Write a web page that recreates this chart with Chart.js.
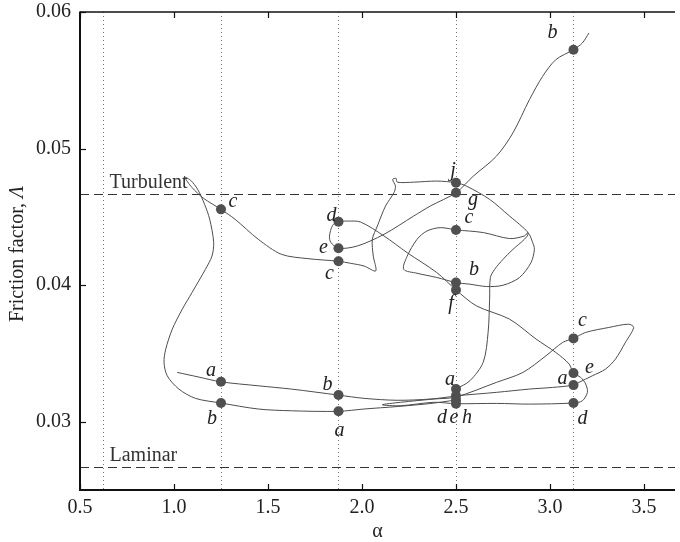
<!DOCTYPE html>
<html><head><meta charset="utf-8">
<script src="https://cdn.jsdelivr.net/npm/chart.js@4/dist/chart.umd.min.js"></script>
<style>html,body{margin:0;padding:0;background:#fff}#wrap{width:680px;height:542px}</style>
</head><body><div id="wrap"><canvas id="c" width="680" height="542"></canvas></div>
<script>
// ---- data ----
const xTicks = [0.5, 1.0, 1.5, 2.0, 2.5, 3.0, 3.5];
const yTicks = [0.03, 0.04, 0.05, 0.06];
const columnAlphas = [0.625, 1.25, 1.875, 2.5, 3.125];
const turbulentLambda = 0.0467;
const laminarLambda = 0.0267;

const curveA = [[3.207,0.05846],[3.172,0.05773],[3.125,0.05724],[3.031,0.05651],[2.961,0.05529],[2.891,0.05359],[2.803,0.05115],[2.715,0.04944],[2.592,0.04798],[2.5,0.04677],[2.363,0.04579],[2.275,0.04506],[2.117,0.04372],[1.976,0.04287],[1.875,0.0427],[1.834,0.04314],[1.827,0.0436],[1.844,0.04438],[1.875,0.04465],[1.923,0.04469],[1.993,0.04462],[2.117,0.0436],[2.24,0.04238],[2.398,0.04092],[2.5,0.03965],[2.609,0.03848],[2.785,0.03751],[2.926,0.03605],[3.031,0.03507],[3.102,0.03422],[3.125,0.03356],[3.163,0.03325],[3.19,0.03276],[3.199,0.03215],[3.172,0.03153],[3.125,0.03137],[2.891,0.03129],[2.715,0.03134],[2.5,0.03132],[2.382,0.03142],[2.204,0.03117],[2.108,0.03124],[2.204,0.03142],[2.382,0.03166],[2.5,0.03181],[2.715,0.03288],[2.856,0.03361],[2.979,0.03483],[3.067,0.0358],[3.125,0.0361],[3.19,0.03654],[3.313,0.0369],[3.418,0.03714],[3.445,0.0369],[3.401,0.0358],[3.348,0.03458],[3.295,0.03385],[3.225,0.03336],[3.154,0.03288],[3.125,0.03268],[3.014,0.03251],[2.891,0.03239],[2.715,0.03215],[2.5,0.0319]];

const curveB = [[2.5,0.03239],[2.574,0.033],[2.645,0.03436],[2.671,0.03656],[2.679,0.03897],[2.683,0.04056],[2.706,0.04116],[2.75,0.04189],[2.803,0.04262],[2.864,0.04336],[2.884,0.04379],[2.856,0.04423],[2.785,0.04506],[2.679,0.04628],[2.556,0.04725],[2.5,0.0475],[2.398,0.04762],[2.275,0.04754],[2.187,0.04754],[2.182,0.04781],[2.163,0.04774],[2.178,0.04725],[2.17,0.04677],[2.125,0.04579],[2.082,0.04433],[2.055,0.04336],[2.06,0.04213],[2.073,0.04104],[2.011,0.0414],[1.939,0.0416],[1.875,0.04175],[1.712,0.04194],[1.571,0.04226],[1.448,0.04336],[1.325,0.04482],[1.25,0.04555],[1.158,0.04635],[1.095,0.04716],[1.058,0.04789],[1.089,0.04767],[1.126,0.04701],[1.163,0.04591],[1.19,0.04482],[1.211,0.04314],[1.202,0.04213],[1.167,0.04116],[1.096,0.03946],[1.044,0.03824],[0.991,0.03678],[0.956,0.03531],[0.947,0.03434],[0.964,0.03336],[1.026,0.03239],[1.114,0.03171],[1.25,0.03137],[1.448,0.03093],[1.624,0.0308],[1.875,0.03076],[2.011,0.03093],[2.187,0.03111],[2.361,0.03133],[2.5,0.03159]];

const curveC = [[1.017,0.03361],[1.132,0.03327],[1.25,0.03292],[1.448,0.03263],[1.624,0.03239],[1.875,0.03195],[2.011,0.03171],[2.187,0.03157],[2.363,0.03166],[2.5,0.03188]];

const curveD = [[2.5,0.04404],[2.645,0.04385],[2.785,0.04341],[2.864,0.0436],[2.884,0.04383],[2.908,0.04311],[2.917,0.04262],[2.899,0.04165],[2.838,0.04056],[2.75,0.03999],[2.662,0.0399],[2.574,0.04007],[2.5,0.04019],[2.398,0.04056],[2.293,0.04087],[2.222,0.04116],[2.24,0.04211],[2.293,0.04336],[2.345,0.04396],[2.416,0.04421],[2.5,0.04404]];

const markerAlpha  = [1.25,1.25,1.25, 1.875,1.875,1.875,1.875,1.875, 2.5,2.5,2.5,2.5,2.5,2.5,2.5,2.5,2.5, 3.125,3.125,3.125,3.125,3.125];
const markerLambda = [0.04555,0.03292,0.03137, 0.04465,0.0427,0.04175,0.03195,0.03076, 0.0475,0.04677,0.04404,0.04019,0.03965,0.03239,0.0319,0.03159,0.03132, 0.05724,0.0361,0.03356,0.03268,0.03137];
const markerLetter = ['c','a','b', 'd','e','c','b','a', 'j','g','c','b','f','a','d','e','h', 'b','c','e','a','d'];

// ---- styles ----
const labelOffset = [[12,-8],[-10,-11],[-9,16], [-7,-6],[-15,-1],[-9,13],[-11,-10],[1,19], [-3,-12],[17,7],[13,-12],[18,-13],[-5,14],[-6,-9],[-14,22],[-2,18],[11,14], [-21,-17],[9,-18],[16,-5],[-11,-6],[9,16]];
const FONT = '"Liberation Serif", "Times New Roman", serif';
const LINE_COLOR = '#4d4d4d';

const toPts = arr => arr.map(p => ({x: p[0], y: p[1]}));
const lineDS = arr => ({
  type: 'scatter', data: toPts(arr), showLine: true, borderColor: LINE_COLOR,
  borderWidth: 1, pointRadius: 0, pointHoverRadius: 0, tension: 0.3, fill: false
});

const refPlugin = {
  id: 'refs',
  beforeDatasetsDraw(chart) {
    const {ctx, chartArea: {left, right, top, bottom}, scales: {x, y}} = chart;
    ctx.save();
    ctx.strokeStyle = '#777'; ctx.lineWidth = 1; ctx.setLineDash([1, 3]);
    columnAlphas.forEach(a => {
      const px = Math.round(x.getPixelForValue(a)) + 0.5;
      ctx.beginPath(); ctx.moveTo(px, top); ctx.lineTo(px, bottom); ctx.stroke();
    });
    ctx.strokeStyle = '#333'; ctx.setLineDash([9, 5]);
    [turbulentLambda, laminarLambda].forEach(v => {
      const py = Math.round(y.getPixelForValue(v)) + 0.5;
      ctx.beginPath(); ctx.moveTo(left, py); ctx.lineTo(right, py); ctx.stroke();
    });
    ctx.setLineDash([]);
    ctx.font = '20px ' + FONT; ctx.fillStyle = '#333';
    ctx.textAlign = 'left'; ctx.textBaseline = 'alphabetic';
    const tx = x.getPixelForValue(columnAlphas[0]) + 6;
    ctx.fillText('Turbulent', tx, y.getPixelForValue(turbulentLambda) - 6);
    ctx.fillText('Laminar', tx, y.getPixelForValue(laminarLambda) - 6);
    ctx.restore();
  },
  afterDatasetsDraw(chart) {
    const {ctx, scales: {x, y}} = chart;
    ctx.save();
    ctx.font = 'italic 20px ' + FONT; ctx.fillStyle = '#222';
    ctx.textAlign = 'center'; ctx.textBaseline = 'middle';
    markerLetter.forEach((t, i) => {
      const px = x.getPixelForValue(markerAlpha[i]) + labelOffset[i][0];
      const py = y.getPixelForValue(markerLambda[i]) + labelOffset[i][1];
      ctx.fillText(t, px, py);
    });
    ctx.restore();
  },
  afterDraw(chart) {
    const {ctx, chartArea: {left, right, top, bottom}, scales: {x, y}} = chart;
    ctx.save();
    ctx.strokeStyle = '#111';
    ctx.lineWidth = 2;
    ctx.beginPath(); ctx.moveTo(left, top - 0.5); ctx.lineTo(left, bottom + 1); ctx.stroke();
    ctx.beginPath(); ctx.moveTo(left - 1, bottom); ctx.lineTo(right, bottom); ctx.stroke();
    ctx.lineWidth = 1.5;
    ctx.beginPath(); ctx.moveTo(left, top); ctx.lineTo(right, top); ctx.stroke();
    ctx.lineWidth = 1.2;
    xTicks.forEach(v => {
      const px = Math.round(x.getPixelForValue(v)) + 0.5;
      ctx.beginPath(); ctx.moveTo(px, bottom); ctx.lineTo(px, bottom - 6); ctx.stroke();
      ctx.beginPath(); ctx.moveTo(px, top); ctx.lineTo(px, top + 6); ctx.stroke();
    });
    yTicks.forEach(v => {
      const py = Math.round(y.getPixelForValue(v)) + 0.5;
      ctx.beginPath(); ctx.moveTo(left, py); ctx.lineTo(left + 6, py); ctx.stroke();
    });
    // y axis title with italic Lambda
    const f1 = '20px ' + FONT, f2 = 'italic 20px ' + FONT;
    const t1 = 'Friction factor, ', t2 = 'Λ';
    ctx.translate(18, (top + bottom) / 2 + 3);
    ctx.rotate(-Math.PI / 2);
    ctx.fillStyle = '#222'; ctx.textBaseline = 'middle'; ctx.textAlign = 'left';
    ctx.font = f1; const w1 = ctx.measureText(t1).width;
    ctx.font = f2; const w2 = ctx.measureText(t2).width;
    const sx = -(w1 + w2) / 2;
    ctx.font = f1; ctx.fillText(t1, sx, 0);
    ctx.font = f2; ctx.fillText(t2, sx + w1, 0);
    ctx.restore();
  }
};

new Chart(document.getElementById('c'), {
  type: 'scatter',
  data: {
    datasets: [
      { type: 'scatter', data: markerAlpha.map((a, i) => ({x: a, y: markerLambda[i]})),
        pointRadius: 5, pointHoverRadius: 5, pointBackgroundColor: '#505050',
        pointBorderColor: '#505050', pointBorderWidth: 0, showLine: false },
      lineDS(curveA), lineDS(curveB), lineDS(curveC), lineDS(curveD)
    ]
  },
  options: {
    responsive: false, animation: false, events: [],
    layout: { padding: { top: 12, right: 0, bottom: 0, left: 0 } },
    plugins: { legend: { display: false }, tooltip: { enabled: false } },
    scales: {
      x: {
        type: 'linear', min: 0.5, max: 3.665,
        grid: { display: false, drawTicks: false }, border: { display: false },
        afterBuildTicks: s => { s.ticks = xTicks.map(v => ({value: v})); },
        afterFit: s => { s.height = 52; s.paddingLeft = 0; s.paddingRight = 0; },
        ticks: { padding: 6, maxRotation: 0, autoSkip: false, color: '#222',
                 font: { family: FONT, size: 20 }, callback: v => Number(v).toFixed(1) },
        title: { display: true, text: 'α', color: '#222', font: { family: FONT, size: 20 },
                 padding: { top: 0, bottom: -2 } }
      },
      y: {
        type: 'linear', min: 0.025, max: 0.06,
        grid: { display: false, drawTicks: false }, border: { display: false },
        afterBuildTicks: s => { s.ticks = yTicks.map(v => ({value: v})); },
        afterFit: s => { s.width = 80; s.paddingTop = 0; s.paddingBottom = 0; },
        ticks: { padding: 9, color: '#222', font: { family: FONT, size: 20 },
                 callback: v => Number(v).toFixed(2) }
      }
    }
  },
  plugins: [refPlugin]
});
</script>
</body></html>
